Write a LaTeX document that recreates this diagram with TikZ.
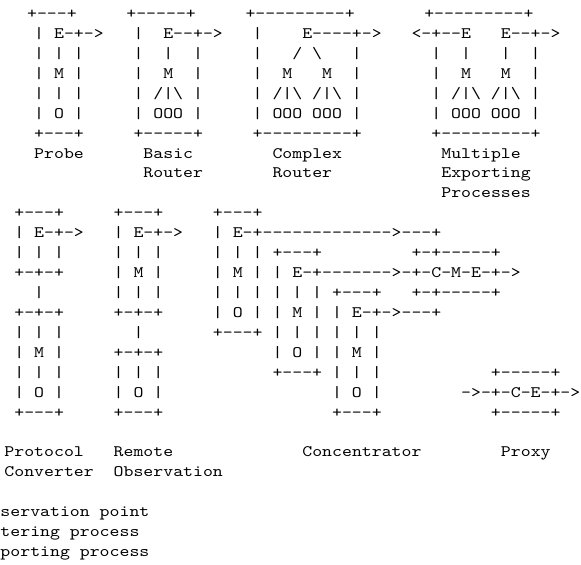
\documentclass[tikz,border=0pt]{standalone}
\font\asciifont="[lmmono10-regular]:extend=1.182" at 16pt

\begin{document}
\begin{tikzpicture}[x=9.93pt, y=-19.93pt]
    % Define styles
    \tikzstyle{asciirow} = [font=\asciifont, inner sep=0pt, anchor=base west]
    \useasboundingbox (-3.428,-0.928) rectangle (55.081,27.421);

    % Probe, Basic Router, Complex Router, Multiple Exporting Processes
    \node[asciirow] (dev0) at (-0.72,0) {+---+~~~~~+-----+~~~~~+---------+~~~~~~~+---------+};
    \node[asciirow] (dev1) at (0,1) {|~E-+->~~~|~~E--+->~~~|~~~~E----+->~~~<-+--E~~~E--+->};
    \node[asciirow] (dev2) at (0,2) {|~|~|~~~~~|~~|~~|~~~~~|~~~/~\textbackslash~~~|~~~~~~~|~~|~~~|~~|};
    \node[asciirow] (dev3) at (0,3) {|~M~|~~~~~|~~M~~|~~~~~|~~M~~~M~~|~~~~~~~|~~M~~~M~~|};
    \node[asciirow] (dev4) at (0,4) {|~|~|~~~~~|~/|\textbackslash~|~~~~~|~/|\textbackslash~/|\textbackslash~|~~~~~~~|~/|\textbackslash~/|\textbackslash~|};
    \node[asciirow] (dev5) at (0,5) {|~O~|~~~~~|~OOO~|~~~~~|~OOO~OOO~|~~~~~~~|~OOO~OOO~|};
    \node[asciirow] (dev6) at (0,6) {+---+~~~~~+-----+~~~~~+---------+~~~~~~~+---------+};

    % Labels
    \node[asciirow] (probe) at (0,7) {Probe};
    \node[asciirow] (basic) at (11,7) {Basic};
    \node[asciirow] (basicr) at (11,8) {Router};
    \node[asciirow] (complex) at (24,7) {Complex};
    \node[asciirow] (complexr) at (24,8) {Router};
    \node[asciirow] (multi) at (41,7) {Multiple};
    \node[asciirow] (multie) at (41,8) {Exporting};
    \node[asciirow] (multip) at (41,9) {Processes};

    % Protocol Converter, Remote Observation, Concentrator, Proxy
    \node[asciirow] (chain0) at (-2,10) {+---+~~~~~+---+~~~~~+---+};
    \node[asciirow] (chain1) at (-2,11) {|~E-+->~~~|~E-+->~~~|~E-+------------->---+};
    \node[asciirow] (chain2) at (-2,12) {|~|~|~~~~~|~|~|~~~~~|~|~|~+---+~~~~~~~~~+-+-----+};
    \node[asciirow] (chain3) at (-2,13) {+-+-+~~~~~|~M~|~~~~~|~M~|~|~E-+------->-+-C-M-E-+->};
    \node[asciirow] (chain4) at (0,14) {|~~~~~~~|~|~|~~~~~|~|~|~|~|~|~+---+~~~+-+-----+};
    \node[asciirow] (chain5) at (-2,15) {+-+-+~~~~~+-+-+~~~~~|~O~|~|~M~|~|~E-+->---+};
    \node[asciirow] (chain6) at (-2,16) {|~|~|~~~~~~~|~~~~~~~+---+~|~|~|~|~|~|};
    \node[asciirow] (chain7) at (-2,17) {|~M~|~~~~~+-+-+~~~~~~~~~~~|~O~|~|~M~|};
    \node[asciirow] (chain8) at (-2,18) {|~|~|~~~~~|~|~|~~~~~~~~~~~+---+~|~|~|~~~~~~~~~~~+-----+};
    \node[asciirow] (chain9) at (-2,19) {|~O~|~~~~~|~O~|~~~~~~~~~~~~~~~~~|~O~|~~~~~~~~->-+-C-E-+->};
    \node[asciirow] (chain10) at (-2,20) {+---+~~~~~+---+~~~~~~~~~~~~~~~~~+---+~~~~~~~~~~~+-----+};

    % Labels
    \node[asciirow] (protocol) at (-3,22) {Protocol};
    \node[asciirow] (protocolc) at (-3,23) {Converter};
    \node[asciirow] (remote) at (8,22) {Remote};
    \node[asciirow] (remoteo) at (8,23) {Observation};
    \node[asciirow] (concentrator) at (27,22) {Concentrator};
    \node[asciirow] (proxy) at (47,22) {Proxy};

    % Legend
    \node[asciirow] (legendo) at (-3.4,25) {servation~point};
    \node[asciirow] (legendm) at (-3.4,26) {tering~process};
    \node[asciirow] (legende) at (-3.4,27) {porting~process};

\end{tikzpicture}
\end{document}
